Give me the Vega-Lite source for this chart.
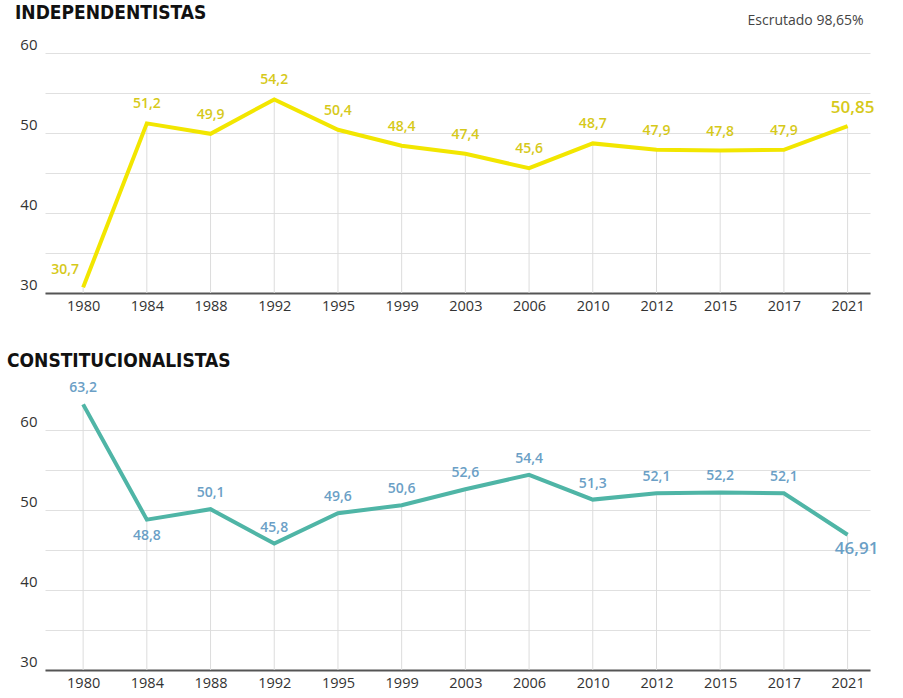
{
  "$schema": "https://vega.github.io/schema/vega-lite/v6.json",
  "padding": {"left": 0, "top": 4, "right": 0, "bottom": 0},
  "background": "white",
  "datasets": {
    "ind": [
      {"year": 1980, "value": 30.7, "label": "30,7"},
      {"year": 1984, "value": 51.2, "label": "51,2"},
      {"year": 1988, "value": 49.9, "label": "49,9"},
      {"year": 1992, "value": 54.2, "label": "54,2"},
      {"year": 1995, "value": 50.4, "label": "50,4"},
      {"year": 1999, "value": 48.4, "label": "48,4"},
      {"year": 2003, "value": 47.4, "label": "47,4"},
      {"year": 2006, "value": 45.6, "label": "45,6"},
      {"year": 2010, "value": 48.7, "label": "48,7"},
      {"year": 2012, "value": 47.9, "label": "47,9"},
      {"year": 2015, "value": 47.8, "label": "47,8"},
      {"year": 2017, "value": 47.9, "label": "47,9"},
      {"year": 2021, "value": 50.85, "label": "50,85"}
    ],
    "con": [
      {"year": 1980, "value": 63.2, "label": "63,2"},
      {"year": 1984, "value": 48.8, "label": "48,8"},
      {"year": 1988, "value": 50.1, "label": "50,1"},
      {"year": 1992, "value": 45.8, "label": "45,8"},
      {"year": 1995, "value": 49.6, "label": "49,6"},
      {"year": 1999, "value": 50.6, "label": "50,6"},
      {"year": 2003, "value": 52.6, "label": "52,6"},
      {"year": 2006, "value": 54.4, "label": "54,4"},
      {"year": 2010, "value": 51.3, "label": "51,3"},
      {"year": 2012, "value": 52.1, "label": "52,1"},
      {"year": 2015, "value": 52.2, "label": "52,2"},
      {"year": 2017, "value": 52.1, "label": "52,1"},
      {"year": 2021, "value": 46.91, "label": "46,91"}
    ],
    "note": [{"year": 2021, "value": 60, "text": "Escrutado 98,65%"}]
  },
  "spacing": 39,
  "vconcat": [
    {
      "width": 825,
      "height": 240,
      "title": {"text": "INDEPENDENTISTAS", "anchor": "start", "frame": "group", "dx": -30, "offset": -9},
      "data": {"name": "ind"},
      "encoding": {
        "x": {"field": "year", "type": "ordinal", "scale": {"type": "point", "padding": 0.475, "align": 0.63}, "axis": {"title": null}},
        "y": {"field": "value", "type": "quantitative", "scale": {"domain": [30, 60], "nice": false, "zero": false}, "axis": {"title": null}}
      },
      "layer": [
        {"mark": {"type": "rule", "color": "#dcdcdc", "strokeWidth": 1}, "encoding": {"y2": {"datum": 30}}},
        {"mark": {"type": "line", "color": "#f2e600", "strokeWidth": 4}},
        {
          "transform": [{"filter": "datum.year != 1980 && datum.year != 2021"}],
          "mark": {"type": "text", "color": "#d6c91a", "font": "Open Sans", "fontWeight": 600, "fontSize": 14, "dy": -19},
          "encoding": {"text": {"field": "label"}}
        },
        {
          "transform": [{"filter": "datum.year == 1980"}],
          "mark": {"type": "text", "color": "#d6c91a", "font": "Open Sans", "fontWeight": 600, "fontSize": 14, "align": "right", "dx": -4, "dy": -17},
          "encoding": {"text": {"field": "label"}}
        },
        {
          "transform": [{"filter": "datum.year == 2021"}],
          "mark": {"type": "text", "color": "#d6c91a", "font": "Open Sans", "fontWeight": 600, "fontSize": 17, "dx": 5, "dy": -18},
          "encoding": {"text": {"field": "label"}}
        },
        {
          "data": {"name": "note"},
          "mark": {"type": "text", "color": "#444444", "font": "Open Sans", "fontSize": 14, "align": "right", "baseline": "alphabetic", "dx": 16, "dy": -28},
          "encoding": {"text": {"field": "text"}}
        }
      ]
    },
    {
      "width": 825,
      "height": 240,
      "title": {"text": "CONSTITUCIONALISTAS", "anchor": "start", "frame": "group", "dx": -38, "offset": 10},
      "data": {"name": "con"},
      "encoding": {
        "x": {"field": "year", "type": "ordinal", "scale": {"type": "point", "padding": 0.475, "align": 0.63}, "axis": {"title": null}},
        "y": {"field": "value", "type": "quantitative", "scale": {"domain": [30, 60], "nice": false, "zero": false}, "axis": {"title": null}}
      },
      "layer": [
        {"mark": {"type": "rule", "color": "#dcdcdc", "strokeWidth": 1}, "encoding": {"y2": {"datum": 30}}},
        {"mark": {"type": "line", "color": "#4fb5a6", "strokeWidth": 4}},
        {
          "transform": [{"filter": "datum.year != 1984 && datum.year != 2021"}],
          "mark": {"type": "text", "color": "#6b9fc6", "font": "Open Sans", "fontWeight": 600, "fontSize": 14, "dy": -16},
          "encoding": {"text": {"field": "label"}}
        },
        {
          "transform": [{"filter": "datum.year == 1984"}],
          "mark": {"type": "text", "color": "#6b9fc6", "font": "Open Sans", "fontWeight": 600, "fontSize": 14, "dy": 16},
          "encoding": {"text": {"field": "label"}}
        },
        {
          "transform": [{"filter": "datum.year == 2021"}],
          "mark": {"type": "text", "color": "#6b9fc6", "font": "Open Sans", "fontWeight": 600, "fontSize": 17, "dx": 9, "dy": 14},
          "encoding": {"text": {"field": "label"}}
        }
      ]
    }
  ],
  "config": {
    "view": {"stroke": null},
    "title": {"font": "DejaVu Sans Condensed", "fontWeight": "bold", "fontSize": 19, "color": "#111111"},
    "axisX": {
      "domainColor": "#555555", "domainWidth": 2, "ticks": false, "grid": false,
      "labelFont": "Open Sans", "labelFontSize": 14.5, "labelColor": "#333333", "labelPadding": 6, "labelAngle": 0
    },
    "axisY": {
      "values": [30, 35, 40, 45, 50, 55, 60],
      "labelExpr": "datum.value % 10 == 0 ? datum.label : ''",
      "domain": false, "ticks": false, "grid": true, "gridColor": "#e0e0e0", "gridWidth": 1,
      "labelFont": "Open Sans", "labelFontSize": 15, "labelColor": "#333333", "labelPadding": 8,
      "labelBaseline": "alphabetic", "labelOffset": -4,
      "minExtent": 45, "maxExtent": 45
    }
  }
}
